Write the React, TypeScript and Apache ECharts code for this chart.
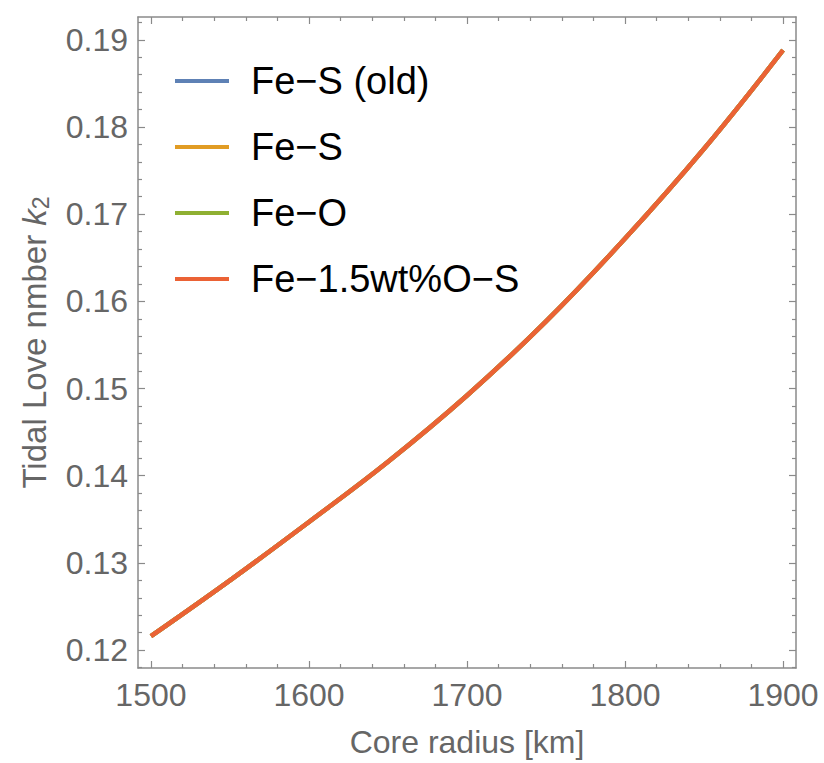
import React, { useEffect, useRef } from "react";
import * as echarts from "echarts";

const radius = [1500, 1550, 1600, 1650, 1700, 1750, 1800, 1850, 1900];
const feSOld = [0.1216, 0.128, 0.1347, 0.1416, 0.1492, 0.1577, 0.1672, 0.1775, 0.1888];
const feS = [0.1216, 0.128, 0.1347, 0.1416, 0.1492, 0.1577, 0.1672, 0.1775, 0.1888];
const feO = [0.1216, 0.128, 0.1347, 0.1416, 0.1492, 0.1577, 0.1672, 0.1775, 0.1888];
const feOS = [0.1216, 0.128, 0.1347, 0.1416, 0.1492, 0.1577, 0.1672, 0.1775, 0.1888];

const seriesNames = ["Fe\u2212S (old)", "Fe\u2212S", "Fe\u2212O", "Fe\u22121.5wt%O\u2212S"];
const seriesColors = ["#5E81B5", "#E19C24", "#8FB032", "#EB6235"];

const xMajor = [1500, 1600, 1700, 1800, 1900];
const yMajor = [0.12, 0.13, 0.14, 0.15, 0.16, 0.17, 0.18, 0.19];

const X_MIN = 1491.8;
const X_MAX = 1908.2;
const Y_MIN = 0.11795;
const Y_MAX = 0.19261;

function minorTicks(major: number[], step: number, lo: number, hi: number) {
  const out: number[] = [];
  const start = major[0] - 5 * step;
  for (let i = 0; i < 100; i++) {
    const v = +(start + i * step).toFixed(6);
    if (v > hi) break;
    if (v >= lo && !major.some((m) => Math.abs(m - v) < step / 10)) out.push(v);
  }
  return out;
}

const xMinor = minorTicks(xMajor, 20, X_MIN, X_MAX);
const yMinor = minorTicks(yMajor, 0.002, Y_MIN, Y_MAX);

const FONT = "'Liberation Sans', Arial, Helvetica, sans-serif";
const FRAME = "#8a8a8a";
const LABEL = "#666666";

export default function App() {
  const ref = useRef<HTMLDivElement>(null);
  useEffect(() => {
    if (!ref.current) return;
    const chart = echarts.init(ref.current, null, { renderer: "svg" });
    const seriesData = [feSOld, feS, feO, feOS];

    const xAx = (pos: string, major: boolean, labels: boolean, extra: any = {}) => ({
      type: "value",
      position: pos,
      min: X_MIN,
      max: X_MAX,
      axisLine: { show: major, onZero: false, lineStyle: { color: FRAME, width: 1.5 } },
      axisTick: {
        show: true,
        inside: true,
        length: major ? 7 : 4,
        customValues: major ? xMajor : xMinor,
        lineStyle: { color: FRAME, width: 1.2 },
      },
      axisLabel: labels
        ? {
            show: true,
            customValues: xMajor,
            fontSize: 32,
            color: LABEL,
            fontFamily: FONT,
            margin: 11,
            formatter: (v: number) => String(Math.round(v)),
          }
        : { show: false },
      splitLine: { show: false },
      ...extra,
    });
    const yAx = (pos: string, major: boolean, labels: boolean, extra: any = {}) => ({
      type: "value",
      position: pos,
      min: Y_MIN,
      max: Y_MAX,
      axisLine: { show: major, onZero: false, lineStyle: { color: FRAME, width: 1.5 } },
      axisTick: {
        show: true,
        inside: true,
        length: major ? 7 : 4,
        customValues: major ? yMajor : yMinor,
        lineStyle: { color: FRAME, width: 1.2 },
      },
      axisLabel: labels
        ? {
            show: true,
            customValues: yMajor,
            fontSize: 32,
            color: LABEL,
            fontFamily: FONT,
            margin: 10,
            formatter: (v: number) => v.toFixed(2),
          }
        : { show: false },
      splitLine: { show: false },
      ...extra,
    });

    chart.setOption({
      animation: false,
      backgroundColor: "#ffffff",
      grid: { left: 138, top: 17, width: 658, height: 657, containLabel: false },
      legend: {
        orient: "vertical",
        left: 170,
        top: 57,
        itemWidth: 54,
        itemHeight: 4,
        itemGap: 28,
        icon: "rect",
        data: seriesNames,
        textStyle: {
          fontSize: 38,
          lineHeight: 38,
          color: "#000",
          fontFamily: FONT,
          padding: [0, 0, 0, 17],
        },
      },
      xAxis: [
        xAx("bottom", true, true, {
          name: "Core radius [km]",
          nameLocation: "middle",
          nameGap: 58,
          nameTextStyle: { fontSize: 32, color: LABEL, fontFamily: FONT },
        }),
        xAx("bottom", false, false),
        xAx("top", true, false),
        xAx("top", false, false),
      ],
      yAxis: [
        yAx("left", true, true, {
          name: "{t|Tidal Love nmber }{k|k}{s|2}",
          nameLocation: "middle",
          nameGap: 86,
          nameTextStyle: {
            fontSize: 33,
            color: LABEL,
            fontFamily: FONT,
            rich: {
              t: { fontSize: 33, color: LABEL, fontFamily: FONT },
              k: { fontSize: 33, color: LABEL, fontFamily: FONT, fontStyle: "italic" },
              s: { fontSize: 23, color: LABEL, fontFamily: FONT, verticalAlign: "bottom", padding: [12, 0, 0, 0] },
            },
          },
        }),
        yAx("left", false, false),
        yAx("right", true, false),
        yAx("right", false, false),
      ],
      series: seriesNames.map((name, i) => ({
        name,
        type: "line",
        xAxisIndex: 0,
        yAxisIndex: 0,
        smooth: 0.4,
        showSymbol: false,
        symbol: "none",
        color: seriesColors[i],
        lineStyle: { color: seriesColors[i], width: 4.5 },
        data: radius.map((r, j) => [r, seriesData[i][j]]),
      })),
    });
    return () => chart.dispose();
  }, []);
  return (
    <div
      ref={ref}
      style={{ position: "absolute", left: 0, top: 0, width: 824, height: 763 }}
    />
  );
}
